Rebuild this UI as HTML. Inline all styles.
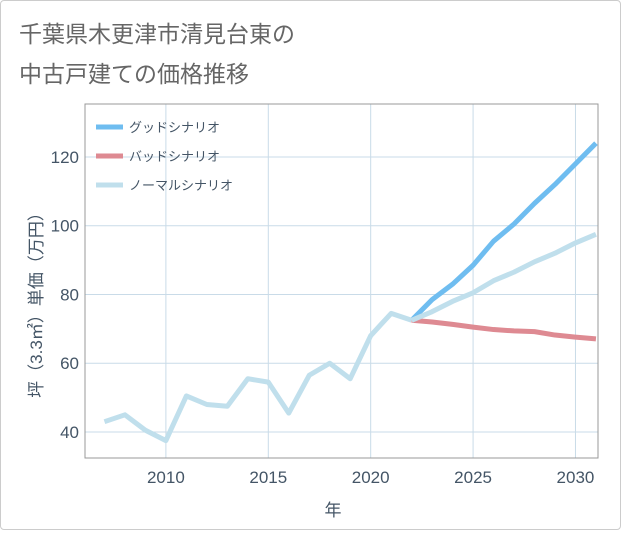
<!DOCTYPE html>
<html><head><meta charset="utf-8"><style>
body{margin:0;background:#fff;}
#card{position:absolute;left:0;top:0;width:619px;height:528px;border:1px solid #ccc;border-radius:4px;background:#fff;}
svg text{font-family:"Liberation Sans","Noto Sans CJK JP",sans-serif;}
</style></head><body>
<div id="card">
<svg id="chart" width="621" height="530">
<text x="18" y="41" font-size="23" fill="#666">千葉県木更津市清見台東の</text>
<text x="18" y="81" font-size="23" fill="#666">中古戸建ての価格推移</text>
<g id="grid"></g>
<g id="series"></g>
<g id="legend"></g>
<text x="332" y="515" font-size="17" fill="#456" text-anchor="middle">年</text>
<text transform="translate(41,300) rotate(-90)" font-size="17" fill="#456" text-anchor="middle">坪（3.3㎡）単価（万円）</text>
</svg></div>
<script>
const xTicks=[2010,2015,2020,2025,2030];
const yTicks=[40,60,80,100,120];
const histYears=[2007,2008,2009,2010,2011,2012,2013,2014,2015,2016,2017,2018,2019,2020,2021,2022];
const histValues=[43,45,40.5,37.5,50.5,48,47.5,55.5,54.5,45.5,56.5,60,55.5,68,74.5,72.5];
const projYears=[2022,2023,2024,2025,2026,2027,2028,2029,2030,2031];
const goodValues=[72.5,78.5,83,88.5,95.5,100.5,106.5,112,118,124];
const badValues=[72.5,72,71.3,70.5,69.8,69.4,69.2,68.2,67.6,67.1];
const normalValues=[72.5,75,78,80.5,84,86.5,89.5,92,95,97.5];
const seriesNames=["グッドシナリオ","バッドシナリオ","ノーマルシナリオ"];
const L=84,R=597,T=103,B=457;
const xMin=2006.05,xMax=2031.1,yMin=32.44,yMax=135.4;
const sx=v=>L+(v-xMin)/(xMax-xMin)*(R-L);
const sy=v=>B-(v-yMin)/(yMax-yMin)*(B-T);
const NS="http://www.w3.org/2000/svg";
function mk(tag,attrs,parent){const e=document.createElementNS(NS,tag);for(const k in attrs)e.setAttribute(k,attrs[k]);parent.appendChild(e);return e;}
const grid=document.getElementById('grid');
xTicks.forEach(t=>{
 const l=mk('line',{x1:sx(t),x2:sx(t),y1:T,y2:B,stroke:'#c9dbe8','stroke-width':1},grid);
 
 
 const tx=mk('text',{x:sx(t),y:B+25,'font-size':17,fill:'#456','text-anchor':'middle'},grid);
 tx.textContent=t;
 
 
});
yTicks.forEach(t=>{
 const l=mk('line',{x1:L,x2:R,y1:sy(t),y2:sy(t),stroke:'#c9dbe8','stroke-width':1},grid);
 
 
 const tx=mk('text',{x:L-6,y:sy(t)+6,'font-size':17,fill:'#456','text-anchor':'end'},grid);
 tx.textContent=t;
 
 
});
const frame=mk('rect',{x:L,y:T,width:R-L,height:B-T,fill:'none',stroke:'#999','stroke-width':1},grid);


const sg=document.getElementById('series');
function line(xs,ys,color,name){
 const p=mk('polyline',{points:xs.map((x,i)=>sx(x)+','+sy(ys[i])).join(' '),fill:'none',stroke:color,'stroke-width':5,'stroke-linejoin':'round'},sg);
 
 
}
line(projYears,goodValues,'#6fbdf0','good-scenario-line');
line(projYears,badValues,'#de8a92','bad-scenario-line');
line(projYears,normalValues,'#c0dfec','normal-scenario-line');
line(histYears,histValues,'#c0dfec','historical-line');
const lg=document.getElementById('legend');
const cols=['#6fbdf0','#de8a92','#c0dfec'];
seriesNames.forEach((n,i)=>{
 const y=126+i*29;
 const l=mk('line',{x1:95,x2:122,y1:y,y2:y,stroke:cols[i],'stroke-width':5},lg);
 
 
 const t=mk('text',{x:128,y:y+5,'font-size':13,fill:'#456'},lg);
 t.textContent=n;
 
 
});
</script>
</body></html>
